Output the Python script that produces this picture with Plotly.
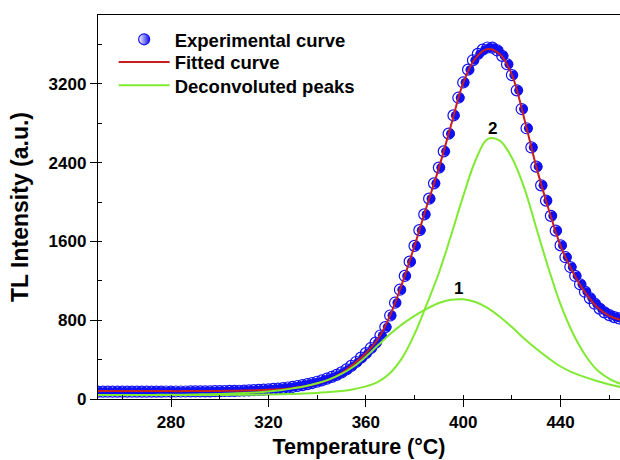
import plotly.graph_objects as go

# ---------------- data ----------------
temp_exp = list(range(250, 466, 2))
intensity_exp = [
    74, 75, 74, 74, 75, 74, 75, 74, 75, 75, 74, 75, 75, 75, 76, 75, 76, 76, 76, 77,
    77, 77, 78, 78, 79, 80,
    81, 82, 83, 84, 86, 88, 90, 92, 95, 98, 102, 106, 111, 117, 124, 132, 141, 151,
    162, 175, 190, 206, 224, 245, 270, 300, 336, 376, 420, 466, 516, 572, 645, 730,
    848, 978, 1110, 1250, 1395, 1555, 1715, 1875, 2035, 2190, 2350, 2515, 2695, 2880,
    3060, 3215, 3345, 3440, 3505, 3548, 3570, 3568, 3540, 3485, 3400, 3290, 3135, 2945,
    2750, 2555, 2360, 2170, 2015, 1860, 1710, 1560, 1440, 1340, 1250, 1165, 1090, 1025,
    968, 918, 880, 852, 832, 818,
]

temp_fit = list(range(250, 470, 5))
intensity_fit = [
    80, 80, 80, 80, 80, 80, 80, 80, 81, 81, 82, 84, 86, 89, 93, 100, 112, 130, 158, 198,
    262, 355, 465, 610, 850, 1180, 1555, 1955, 2345, 2780, 3210, 3460, 3555, 3505, 3295,
    2855, 2360, 1935, 1555, 1290, 1085, 935, 845, 800,
]
peak1 = [
    40, 40, 40, 41, 41, 42, 43, 44, 46, 48, 51, 55, 60, 67, 77, 90, 108, 130, 160, 200,
    255, 330, 430, 545, 660, 760, 845, 915, 975, 1008, 1012, 985, 925, 835, 730, 615,
    510, 415, 330, 268, 222, 182, 148, 120,
]
peak2 = [
    40, 40, 40, 40, 40, 40, 40, 40, 40, 41, 41, 42, 43, 44, 46, 48, 52, 56, 62, 70,
    82, 100, 128, 175, 265, 420, 660, 960, 1280, 1660, 2060, 2420, 2640, 2625, 2450,
    2150, 1740, 1330, 960, 670, 450, 295, 205, 150,
]

peak_labels = ["1", "2"]
peak_label_x = [398.0, 412.2]
peak_label_y = [1120, 2750]

x_ticks = [280, 320, 360, 400, 440]
y_ticks = [0, 800, 1600, 2400, 3200]

# ---------------- styling ----------------
BLUE = "#1010f5"
RED = "#c81e1e"
GREEN = "#80ea32"
FONT = "Liberation Sans"
LEGEND_FONT = dict(family=FONT, size=18.5, color="black", weight="bold")

fig = go.Figure()

# experimental curve: open circle (left) with a solid blue right half
fig.add_trace(go.Scatter(
    x=temp_exp, y=intensity_exp, mode="markers", showlegend=False,
    marker=dict(symbol="circle", size=11, color="rgba(255,255,255,0)",
                line=dict(color=BLUE, width=1.2)),
    hoverinfo="skip",
))
fig.add_trace(go.Scatter(
    x=temp_exp, y=intensity_exp, mode="markers", showlegend=False,
    marker=dict(symbol="circle", size=9, color=BLUE, angle=-90, standoff=1.9,
                line=dict(width=0)),
))
# legend entries
fig.add_trace(go.Scatter(
    x=[None], y=[None], mode="markers", name="Experimental curve", legend="legend",
    marker=dict(symbol="circle", size=11, color="white",
                gradient=dict(type="horizontal", color=BLUE),
                line=dict(color=BLUE, width=1.2)),
))
fig.add_trace(go.Scatter(
    x=temp_fit, y=intensity_fit, mode="lines", name="Fitted curve", legend="legend2",
    line=dict(color=RED, width=2, shape="spline"),
))
fig.add_trace(go.Scatter(
    x=temp_fit, y=peak1, mode="lines", name="Deconvoluted peaks", legend="legend3",
    line=dict(color=GREEN, width=2, shape="spline"),
))
fig.add_trace(go.Scatter(
    x=temp_fit, y=peak2, mode="lines", showlegend=False,
    line=dict(color=GREEN, width=2, shape="spline"),
))

annotations = [
    dict(x=px, y=py, text=t, showarrow=False, xref="x", yref="y",
         font=dict(family=FONT, size=17, color="black", weight="bold"))
    for t, px, py in zip(peak_labels, peak_label_x, peak_label_y)
]

legend_common = dict(x=0.03, xanchor="left", yanchor="top", bgcolor="rgba(0,0,0,0)",
                     borderwidth=0, font=LEGEND_FONT, itemwidth=51)

fig.update_layout(
    width=620, height=460,
    margin=dict(l=98, r=0, t=15, b=61),
    paper_bgcolor="white", plot_bgcolor="white",
    font=dict(family=FONT, color="black"),
    showlegend=True,
    legend=dict(y=0.985, **legend_common),
    legend2=dict(y=0.926, **legend_common),
    legend3=dict(y=0.865, **legend_common),
    annotations=annotations,
)
fig.update_xaxes(
    range=[250, 464.4], tickvals=x_ticks, ticks="outside", ticklen=7, tickwidth=1.3,
    tickcolor="black", showline=True, linecolor="black", linewidth=1.3, mirror=True,
    showgrid=False, zeroline=False,
    minor=dict(dtick=20, ticks="inside", ticklen=4, tickwidth=1.3, tickcolor="black"),
    tickfont=dict(family=FONT, size=17, color="black", weight="bold"),
    title=dict(text="Temperature (°C)", standoff=8,
               font=dict(family=FONT, size=21.5, color="black", weight="bold")),
)
fig.update_yaxes(
    range=[0, 3900], tickvals=y_ticks, ticks="outside", ticklen=7, tickwidth=1.3,
    tickcolor="black", showline=True, linecolor="black", linewidth=1.3,
    showgrid=False, zeroline=False,
    minor=dict(dtick=400, ticks="inside", ticklen=4, tickwidth=1.3, tickcolor="black"),
    tickfont=dict(family=FONT, size=17, color="black", weight="bold"),
    title=dict(text="TL Intensity (a.u.)", standoff=13,
               font=dict(family=FONT, size=23, color="black", weight="bold")),
)

fig.write_html("out.html")
